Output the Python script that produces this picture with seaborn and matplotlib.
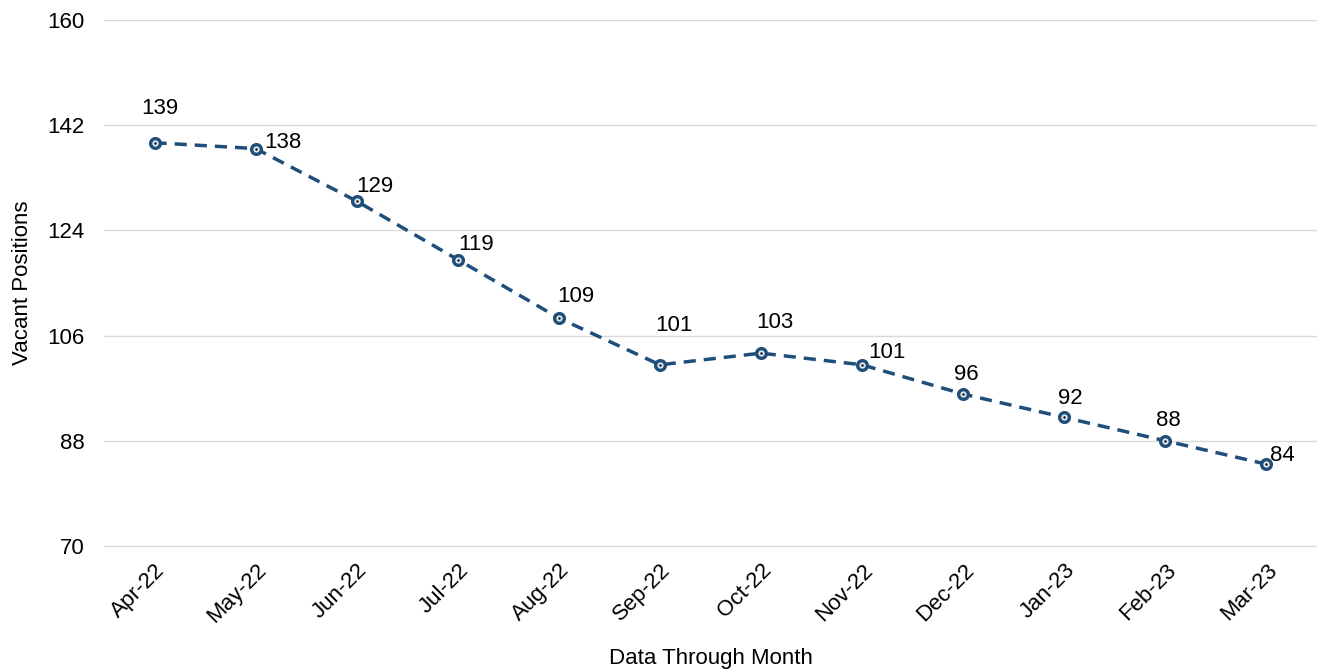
import numpy as np
import pandas as pd
import matplotlib
matplotlib.use('Agg')
import matplotlib.pyplot as plt
import seaborn as sns

months = ['Apr-22', 'May-22', 'Jun-22', 'Jul-22', 'Aug-22', 'Sep-22',
          'Oct-22', 'Nov-22', 'Dec-22', 'Jan-23', 'Feb-23', 'Mar-23']
vacant = [139, 138, 129, 119, 109, 101, 103, 101, 96, 92, 88, 84]

# label offsets in pixels (dx, dy, ha)
label_pos = [(5, 34, 'center'), (9, 6, 'left'), (18, 15, 'center'),
             (18, 15, 'center'), (17, 22, 'center'), (14, 39, 'center'),
             (14, 31, 'center'), (6, 12, 'left'), (3, 20, 'center'),
             (6, 19, 'center'), (3, 20, 'center'), (4, 9, 'left')]

sns.set_style('white')
plt.rcParams['font.family'] = ['Liberation Sans', 'DejaVu Sans']
plt.rcParams['text.color'] = 'black'
plt.rcParams['axes.labelcolor'] = 'black'
plt.rcParams['xtick.color'] = 'black'
plt.rcParams['ytick.color'] = 'black'

data = pd.DataFrame({'idx': np.arange(len(months)), 'Vacant': vacant})

fig = plt.figure(figsize=(13.17, 6.70), dpi=100)
ax = fig.add_axes([104 / 1317, 1 - 546 / 670, 1 - 104 / 1317, (546 - 20) / 670])

color = '#1F4E79'
sns.lineplot(data=data, x='idx', y='Vacant', ax=ax, color=color, linewidth=2.5,
             linestyle=(0, (3.5, 2.3)), marker='o', markersize=7,
             markerfacecolor='#dfe6ee', markeredgecolor=color, markeredgewidth=2.4)
sns.scatterplot(data=data, x='idx', y='Vacant', ax=ax, color='black', s=3,
                linewidth=0, zorder=5)

for i, v in enumerate(vacant):
    dx, dy, ha = label_pos[i]
    ax.annotate(str(v), (i, v), xytext=(dx, dy), textcoords='offset pixels',
                ha=ha, va='center', fontsize=16, color='black')

ax.set_xlim(-0.5, len(months) - 0.5)
ax.set_ylim(70, 160)
ax.set_yticks(np.arange(70, 161, 18))
ax.grid(axis='y', color='#D9D9D9', linewidth=1)
ax.set_axisbelow(True)

ax.set_xticks(np.arange(len(months)))
ax.set_xticklabels(months, rotation=45, ha='right', rotation_mode='anchor')
ax.set_xticks(np.arange(-0.5, len(months), 1), minor=True)
ax.tick_params(axis='x', which='major', length=0, labelsize=16, pad=10)
ax.tick_params(axis='x', which='minor', length=6, color='#D9D9D9', width=1)
ax.tick_params(axis='y', length=0, labelsize=16, pad=14)

for s in ['top', 'right', 'left']:
    ax.spines[s].set_visible(False)
ax.spines['bottom'].set_color('#D9D9D9')

ax.set_xlabel('Data Through Month', fontsize=16, labelpad=15)
ax.set_ylabel('Vacant Positions', fontsize=16, labelpad=10)

fig.savefig('out.png', dpi=100)
